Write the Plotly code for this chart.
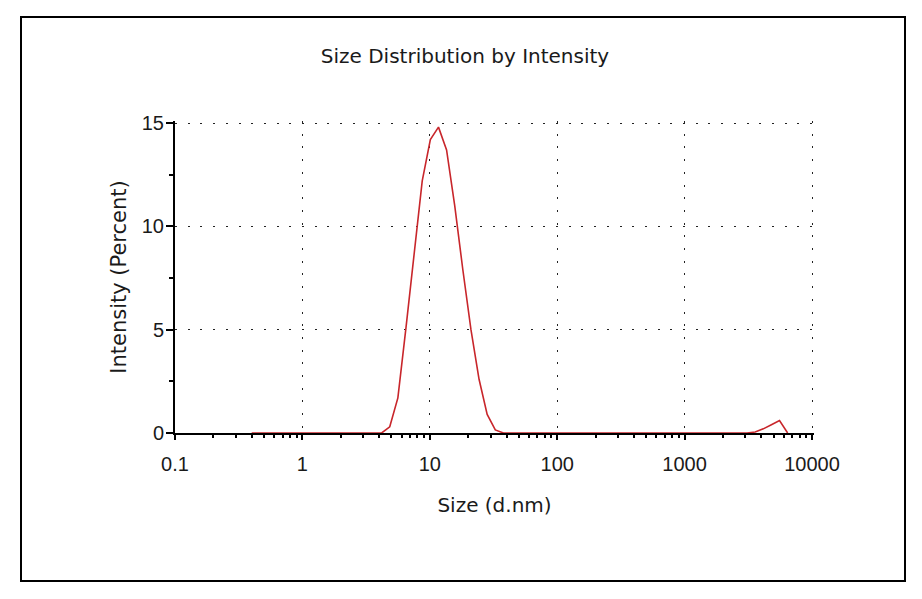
import plotly.graph_objects as go

# ---- data ----
size_nm = [0.4, 0.4632, 0.5365, 0.6213, 0.7195, 0.8332, 0.9649, 1.117, 1.294, 1.499,
           1.736, 2.010, 2.328, 2.696, 3.122, 3.615, 4.187, 4.849, 5.615, 6.503,
           7.531, 8.721, 10.10, 11.70, 13.54, 15.69, 18.17, 21.04, 24.36, 28.21,
           32.67, 37.84, 43.82, 50.75, 58.77, 68.06, 78.82, 91.28, 105.7, 122.4,
           141.8, 164.2, 190.1, 220.2, 255.0, 295.3, 342.0, 396.1, 458.7, 531.2,
           615.1, 712.4, 825.0, 955.4, 1106, 1281, 1484, 1718, 1990, 2305,
           2669, 3091, 3580, 4145, 4801, 5560, 6439]
intensity_pct = [0, 0, 0, 0, 0, 0, 0, 0, 0, 0,
                 0, 0, 0, 0, 0, 0, 0, 0.3, 1.7, 5.1,
                 8.6, 12.2, 14.2, 14.8, 13.7, 11.0, 7.9, 5.0, 2.6, 0.9,
                 0.15, 0, 0, 0, 0, 0, 0, 0, 0, 0,
                 0, 0, 0, 0, 0, 0, 0, 0, 0, 0,
                 0, 0, 0, 0, 0, 0, 0, 0, 0, 0,
                 0, 0, 0.05, 0.2, 0.4, 0.6, 0]

x_tickvals = [0.1, 1, 10, 100, 1000, 10000]
x_ticktext = ["0.1", "1", "10", "100", "1000", "10000"]
x_minor = [m * 10 ** e for e in range(-1, 4) for m in range(2, 10)]
y_tickvals = [0, 5, 10, 15]
y_ticktext = ["0", "5", "10", "15"]
y_minor = [2.5, 7.5, 12.5]

title_text = "Size Distribution by Intensity"
x_title = "Size (d.nm)"
y_title = "Intensity (Percent)"

# page body has an 8px margin: work in figure coordinates
OFF = 8
W, H = 922 - OFF, 599 - OFF
EXTRA = 2  # px of plot area beyond 15 / 10000 so their grid lines are still drawn
L, R, T, B = 175 - OFF, 812 + EXTRA - OFF, 123 - EXTRA - OFF, 433 - OFF
x_range = [-1, 4 + EXTRA * 5 / 637]
y_range = [0, 15 + EXTRA * 15 / 310]

fig = go.Figure()
fig.add_trace(go.Scatter(x=size_nm, y=intensity_pct, mode="lines",
                         line=dict(color="#c8262b", width=1.6),
                         cliponaxis=False, hoverinfo="x+y", showlegend=False))

tickfont = dict(family="Liberation Sans, Arial, sans-serif", size=20, color="#1a1a1a")
labfont = dict(family="DejaVu Sans, sans-serif", size=20, color="#1a1a1a")
grid_dash = "2px,10.7px"

fig.update_layout(
    width=W, height=H,
    margin=dict(l=L, r=W - R, t=T, b=H - B, pad=0),
    paper_bgcolor="white", plot_bgcolor="white",
    title=dict(text=title_text, font=dict(family="DejaVu Sans, sans-serif", size=20, color="#1a1a1a"),
               x=0.5, xref="container", xanchor="center",
               y=1 - (56 - OFF) / H, yref="container", yanchor="middle"),
    xaxis=dict(type="log", range=x_range, tickmode="array", tickvals=x_tickvals, ticktext=x_ticktext,
               ticks="outside", ticklen=5, tickwidth=1.5, tickcolor="black",
               minor=dict(tickmode="array", tickvals=x_minor, ticks="outside", ticklen=3,
                          tickwidth=1.5, tickcolor="black", showgrid=False),
               showline=True, linecolor="black", linewidth=2,
               showgrid=True, gridcolor="#222", gridwidth=1.3, griddash=grid_dash,
               zeroline=False, tickfont=tickfont, ticklabelstandoff=7,
               title=dict(text=x_title, font=labfont, standoff=24),
               layer="below traces", automargin=False, fixedrange=True),
    xaxis2=dict(type="log", range=x_range, overlaying="x", anchor="y", side="bottom",
                tickmode="array", tickvals=x_tickvals, ticks="inside", ticklen=5, tickwidth=1.5,
                tickcolor="black", showticklabels=False, showgrid=False, showline=False,
                zeroline=False,
                minor=dict(tickmode="array", tickvals=x_minor, ticks="inside", ticklen=3,
                           tickwidth=1.5, tickcolor="black", showgrid=False),
                layer="below traces", automargin=False),
    yaxis=dict(range=y_range, tickmode="array", tickvals=y_tickvals, ticktext=y_ticktext,
               ticks="outside", ticklen=7, tickwidth=1.5, tickcolor="black",
               minor=dict(tickmode="array", tickvals=y_minor, ticks="outside", ticklen=4,
                          tickwidth=1.5, tickcolor="black", showgrid=False),
               showline=True, linecolor="black", linewidth=2,
               showgrid=True, gridcolor="#222", gridwidth=1.3, griddash=grid_dash,
               zeroline=False, tickfont=tickfont, ticklabelstandoff=-2,
               title=dict(text=y_title, font=dict(family="DejaVu Sans, sans-serif", size=21, color="#1a1a1a"),
                          standoff=9),
               layer="below traces", automargin=False, fixedrange=True),
    yaxis2=dict(range=y_range, overlaying="y", anchor="x", side="left",
                tickmode="array", tickvals=y_tickvals, ticks="inside", ticklen=3, tickwidth=1.5,
                tickcolor="black", showticklabels=False, showgrid=False, showline=False,
                zeroline=False,
                minor=dict(tickmode="array", tickvals=y_minor, ticks="inside", ticklen=4,
                           tickwidth=1.5, tickcolor="black", showgrid=False),
                layer="below traces", automargin=False),
    shapes=[dict(type="rect", xref="paper", yref="paper",
                 x0=(21 - OFF - L) / (R - L), x1=(905 - OFF - L) / (R - L),
                 y0=(B - (581 - OFF)) / (B - T), y1=(B - (17 - OFF)) / (B - T),
                 line=dict(color="black", width=2), fillcolor="rgba(0,0,0,0)", layer="below")],
)

fig.write_html("out.html", config={"displayModeBar": False})
